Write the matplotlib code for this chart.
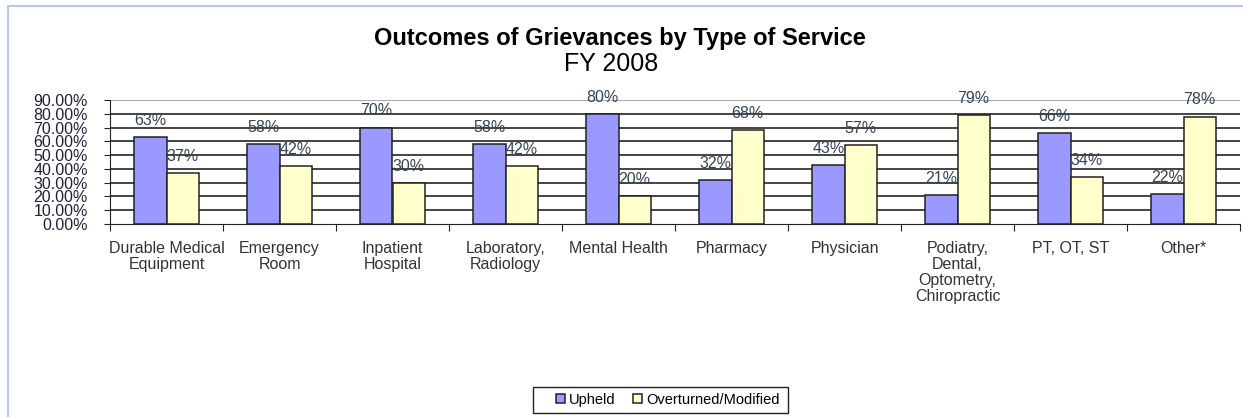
import matplotlib.pyplot as plt
import numpy as np
from matplotlib.lines import Line2D
from matplotlib.patches import Rectangle

plt.rcParams['font.family'] = ['Liberation Sans', 'DejaVu Sans']

categories = ["Durable Medical\nEquipment", "Emergency\nRoom", "Inpatient\nHospital",
              "Laboratory,\nRadiology", "Mental Health", "Pharmacy", "Physician",
              "Podiatry,\nDental,\nOptometry,\nChiropractic", "PT, OT, ST", "Other*"]
upheld = [63, 58, 70, 58, 80, 32, 43, 21, 66, 22]
overturned = [37, 42, 30, 42, 20, 68, 57, 79, 34, 78]
yticks = [0, 10, 20, 30, 40, 50, 60, 70, 80, 90]

W, H = 1243, 417
fig = plt.figure(figsize=(W / 100, H / 100), dpi=100)

# light blue chart border (top and left visible)
fig.add_artist(Line2D([8 / W, 1], [1 - 6 / H, 1 - 6 / H], color='#b8c8e8', lw=1.5))
fig.add_artist(Line2D([8 / W, 8 / W], [0, 1 - 6 / H], color='#b8c8e8', lw=1.5))

ax = fig.add_axes([110 / W, 1 - 224 / H, 1130 / W, 124 / H])

x = np.arange(len(categories))
bw = 0.285
ub = ax.bar(x - bw / 2, np.array(upheld) / 100, bw, color='#9999ff', edgecolor='#222222',
            lw=1.1, label='Upheld', zorder=3)
ob = ax.bar(x + bw / 2, np.array(overturned) / 100, bw, color='#ffffcc', edgecolor='#222222',
            lw=1.1, label='Overturned/Modified', zorder=3)

for bars, vals in ((ub, upheld), (ob, overturned)):
    for b, v in zip(bars, vals):
        ax.annotate(f"{v}%", (b.get_x() + b.get_width() / 2, b.get_height()),
                    xytext=(0, 12), textcoords='offset points', ha='center', va='center',
                    fontsize=11.5, color='#334455', zorder=4)

# gridlines
for t in yticks[1:-1]:
    ax.axhline(t / 100, color='#111111', lw=1.1, zorder=1)
ax.axhline(0.9, color='#aaaaaa', lw=0.8, zorder=1)

ax.set_xlim(-0.5, len(categories) - 0.5)
ax.set_ylim(0, 0.9)
ax.set_yticks([t / 100 for t in yticks])
ax.set_yticklabels([f"{t:.2f}%" for t in yticks], fontsize=11.5, color='#221f3f')
ax.tick_params(axis='y', length=4, pad=12, color='#222222')

ax.set_xticks(np.arange(len(categories) + 1) - 0.5)
ax.set_xticklabels([])
ax.tick_params(axis='x', which='major', length=5, color='#222222')
ax.set_xticks(x, minor=True)
ax.set_xticklabels(categories, minor=True, fontsize=11.5, color='#333333', linespacing=1.1)
ax.tick_params(axis='x', which='minor', length=0, pad=12)

for s in ('top', 'right'):
    ax.spines[s].set_visible(False)
ax.spines['left'].set_color('#222222')
ax.spines['bottom'].set_color('#222222')

fig.text(620 / W, 1 - 45 / H, "Outcomes of Grievances by Type of Service", ha='center',
         va='baseline', fontsize=17, fontweight='bold', color='black')
fig.text(611 / W, 1 - 71 / H, "FY 2008", ha='center', va='baseline', fontsize=18, color='black')

# legend with its own frame
fig.add_artist(Rectangle((533 / W, 1 - 413 / H), 255 / W, 26 / H, transform=fig.transFigure,
                         fill=False, edgecolor='#222222', lw=1.0))
leg = fig.legend(handles=[ub, ob], loc='center', bbox_to_anchor=(668 / W, 1 - 400 / H), ncol=2,
                 fontsize=10.5, frameon=False,
                 handlelength=0.6, handleheight=0.6, handletextpad=0.3, columnspacing=1.2,
                 borderpad=0.2)

fig.savefig('out.png', dpi=100)
